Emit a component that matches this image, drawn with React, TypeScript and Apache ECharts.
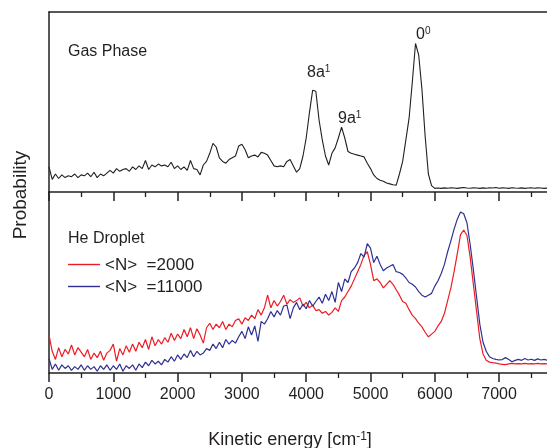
import React, { useEffect, useRef } from "react";
import * as echarts from "echarts";

// Kinetic energy grid (cm^-1): value i sits at i * energyStep
const energyStep = 50;

const gasPhase = [
  0.14, 0.07, 0.10, 0.075, 0.095, 0.08, 0.09, 0.085, 0.10, 0.08,
  0.095, 0.09, 0.105, 0.085, 0.11, 0.08, 0.10, 0.09, 0.105, 0.12,
  0.105, 0.13, 0.115, 0.125, 0.13, 0.115, 0.14, 0.125, 0.145, 0.13,
  0.175, 0.125, 0.15, 0.14, 0.155, 0.145, 0.15, 0.14, 0.165, 0.13,
  0.145, 0.125, 0.14, 0.12, 0.175, 0.13, 0.125, 0.095, 0.15, 0.17,
  0.215, 0.27, 0.25, 0.19, 0.17, 0.16, 0.18, 0.19, 0.2, 0.255,
  0.265, 0.235, 0.19, 0.2, 0.205, 0.195, 0.22, 0.215, 0.205, 0.175,
  0.145, 0.14, 0.145, 0.14, 0.17, 0.18, 0.145, 0.11, 0.13, 0.2,
  0.3, 0.44, 0.565, 0.56, 0.4, 0.29, 0.2, 0.15, 0.215, 0.245,
  0.3, 0.36, 0.3, 0.225, 0.215, 0.21, 0.205, 0.2, 0.195, 0.16,
  0.13, 0.095, 0.075, 0.065, 0.06, 0.05, 0.045, 0.04, 0.038, 0.1,
  0.17, 0.29, 0.41, 0.61, 0.825, 0.76, 0.57, 0.31, 0.1, 0.035,
  0.02, 0.022, 0.02, 0.023, 0.021, 0.024, 0.022, 0.02, 0.023, 0.025,
  0.022, 0.021, 0.024, 0.022, 0.02, 0.023, 0.021, 0.024, 0.022, 0.025,
  0.021, 0.023, 0.022, 0.02, 0.024, 0.022, 0.021, 0.023, 0.02, 0.022,
  0.024, 0.021, 0.023, 0.022, 0.02, 0.022,
];

const droplet2000 = [
  0.21, 0.12, 0.075, 0.14, 0.09, 0.13, 0.105, 0.155, 0.1, 0.14,
  0.115, 0.09, 0.13, 0.075, 0.11, 0.085, 0.12, 0.07, 0.11, 0.125,
  0.16, 0.065, 0.135, 0.1, 0.15, 0.115, 0.16, 0.12, 0.17, 0.14,
  0.185, 0.13, 0.2, 0.15, 0.185, 0.16, 0.195, 0.17, 0.22, 0.18,
  0.215, 0.19, 0.24, 0.2, 0.25, 0.19, 0.245, 0.21, 0.165, 0.25,
  0.275, 0.24, 0.27, 0.25, 0.285, 0.24, 0.27, 0.255, 0.29, 0.3,
  0.27, 0.305, 0.29, 0.32, 0.3, 0.35, 0.32, 0.36, 0.43, 0.36,
  0.4, 0.37, 0.395, 0.43, 0.38, 0.405, 0.39, 0.4, 0.415, 0.37,
  0.39, 0.36, 0.375, 0.345, 0.35, 0.33, 0.34, 0.32, 0.335, 0.36,
  0.34, 0.4, 0.42, 0.45, 0.48, 0.52, 0.56, 0.6, 0.65, 0.67,
  0.6, 0.51, 0.52, 0.5, 0.47, 0.49, 0.51, 0.49, 0.46, 0.43,
  0.395, 0.385, 0.35, 0.32, 0.3, 0.275, 0.255, 0.225, 0.2, 0.215,
  0.23, 0.26, 0.285, 0.33, 0.4, 0.47, 0.56, 0.66, 0.765, 0.79,
  0.76, 0.64, 0.49, 0.34, 0.19, 0.105, 0.07, 0.06, 0.057, 0.055,
  0.05, 0.048, 0.046, 0.05, 0.053, 0.05, 0.052, 0.05, 0.053, 0.05,
  0.052, 0.05, 0.053, 0.05, 0.052, 0.05,
];

const droplet11000 = [
  0.08, 0.02, 0.05, 0.015, 0.045, 0.025, 0.04, 0.015, 0.035, 0.02,
  0.045, 0.015, 0.04, 0.02, 0.035, 0.01, 0.04, 0.02, 0.045, 0.015,
  0.04, 0.02, 0.05, 0.01, 0.04, 0.025, 0.045, 0.015, 0.05, 0.03,
  0.06, 0.04, 0.07, 0.05, 0.065, 0.045, 0.075, 0.06, 0.09, 0.065,
  0.1, 0.075, 0.105, 0.085, 0.125, 0.09, 0.12, 0.1, 0.11, 0.135,
  0.125, 0.16, 0.135, 0.17, 0.14, 0.185, 0.16, 0.18, 0.165, 0.2,
  0.23, 0.19, 0.255, 0.21, 0.26, 0.175, 0.285, 0.27, 0.3, 0.34,
  0.31, 0.345, 0.32, 0.37, 0.375, 0.3, 0.36, 0.39, 0.35, 0.38,
  0.355, 0.4, 0.37, 0.395, 0.42, 0.385, 0.435, 0.4, 0.45, 0.39,
  0.5, 0.45, 0.52, 0.5, 0.56, 0.58, 0.61, 0.66, 0.64, 0.715,
  0.69, 0.61, 0.645, 0.6, 0.565, 0.58, 0.59, 0.6, 0.56, 0.555,
  0.545, 0.525, 0.5, 0.49, 0.475, 0.45, 0.43, 0.42, 0.43, 0.44,
  0.48, 0.51, 0.55, 0.6, 0.67, 0.73, 0.795, 0.85, 0.89, 0.88,
  0.83, 0.71, 0.57, 0.42, 0.27, 0.17, 0.12, 0.09, 0.08, 0.075,
  0.072, 0.074, 0.085, 0.075, 0.062, 0.07, 0.075, 0.07, 0.08, 0.072,
  0.076, 0.07, 0.078, 0.072, 0.075, 0.07,
];

const seriesNames = ["Gas Phase", "<N>  =2000", "<N>  =11000"];
const energyMax = 8000;
const majorInterval = 1000;
const lastLabel = 7000;

export default function App() {
  const ref = useRef<HTMLDivElement>(null);

  useEffect(() => {
    if (!ref.current) return;
    const chart = echarts.init(ref.current, null, { renderer: "svg" });
    const toPairs = (arr: number[]) => arr.map((v, i) => [i * energyStep, v]);
    const font = "'Liberation Sans', Arial, Helvetica, sans-serif";
    const ink = "#231f20";
    const red = "#ed1c24";
    const blue = "#2e3192";

    const axisLine = { show: true, onZero: false, lineStyle: { color: ink, width: 1.5 } };
    const xAxisFor = (gridIndex: number, labels: boolean): any => ({
      type: "value",
      gridIndex,
      position: "bottom",
      min: 0,
      max: energyMax,
      interval: majorInterval,
      axisLine,
      axisTick: { show: true, inside: false, length: 9, lineStyle: { color: ink, width: 1.5 } },
      minorTick: { show: true, splitNumber: 2, length: 5, lineStyle: { color: ink, width: 1.3 } },
      splitLine: { show: false },
      minorSplitLine: { show: false },
      axisLabel: labels
        ? {
            show: true,
            fontSize: 16,
            color: ink,
            margin: 12,
            fontFamily: font,
            formatter: (v: number) => (v <= lastLabel ? String(v) : ""),
          }
        : { show: false },
    });
    const yBase: any = {
      type: "value",
      min: 0,
      max: 1,
      axisLine,
      axisTick: { show: false },
      axisLabel: { show: false },
      splitLine: { show: false },
    };

    chart.setOption({
      animation: false,
      textStyle: { fontFamily: font },
      grid: [
        { left: 49, top: 12, width: 514.4, height: 180, outerBoundsMode: "none" },
        { left: 49, top: 192, width: 514.4, height: 181, outerBoundsMode: "none" },
      ],
      xAxis: [
        xAxisFor(0, false),
        xAxisFor(1, true),
        {
          type: "value",
          gridIndex: 0,
          position: "top",
          min: 0,
          max: energyMax,
          axisLine,
          axisTick: { show: false },
          axisLabel: { show: false },
          splitLine: { show: false },
        },
      ],
      yAxis: [
        { ...yBase, gridIndex: 0 },
        { ...yBase, gridIndex: 1 },
      ],
      legend: {
        data: [seriesNames[1], seriesNames[2]],
        orient: "vertical",
        left: 68,
        top: 256,
        padding: 0,
        icon: "rect",
        itemWidth: 32,
        itemHeight: 1.4,
        itemGap: 5,
        textStyle: { fontSize: 17, color: ink, fontFamily: font, lineHeight: 17 },
      },
      series: [
        {
          type: "line",
          name: seriesNames[0],
          xAxisIndex: 0,
          yAxisIndex: 0,
          data: toPairs(gasPhase),
          symbol: "none",
          lineStyle: { color: ink, width: 1.1 },
          itemStyle: { color: ink },
        },
        {
          type: "line",
          name: seriesNames[1],
          xAxisIndex: 1,
          yAxisIndex: 1,
          data: toPairs(droplet2000),
          symbol: "none",
          lineStyle: { color: red, width: 1.2 },
          itemStyle: { color: red },
        },
        {
          type: "line",
          name: seriesNames[2],
          xAxisIndex: 1,
          yAxisIndex: 1,
          data: toPairs(droplet11000),
          symbol: "none",
          lineStyle: { color: blue, width: 1.2 },
          itemStyle: { color: blue },
        },
      ],
      graphic: [
        {
          type: "text",
          x: 68,
          y: 50.5,
          style: { text: "Gas Phase", fontSize: 16, fill: ink, fontFamily: font, verticalAlign: "middle" },
        },
        {
          type: "text",
          x: 68,
          y: 237.5,
          style: { text: "He Droplet", fontSize: 16, fill: ink, fontFamily: font, verticalAlign: "middle" },
        },
        {
          type: "text",
          x: 307,
          y: 71,
          style: {
            text: "8a{sup|1}",
            fontSize: 16,
            fill: ink,
            fontFamily: font,
            verticalAlign: "middle",
            rich: { sup: { fontSize: 10, verticalAlign: "top", fill: ink, fontFamily: font } },
          },
        },
        {
          type: "text",
          x: 338,
          y: 117.5,
          style: {
            text: "9a{sup|1}",
            fontSize: 16,
            fill: ink,
            fontFamily: font,
            verticalAlign: "middle",
            rich: { sup: { fontSize: 10, verticalAlign: "top", fill: ink, fontFamily: font } },
          },
        },
        {
          type: "text",
          x: 416,
          y: 33,
          style: {
            text: "0{sup|0}",
            fontSize: 16,
            fill: ink,
            fontFamily: font,
            verticalAlign: "middle",
            rich: { sup: { fontSize: 10, verticalAlign: "top", fill: ink, fontFamily: font } },
          },
        },
        {
          type: "text",
          x: 19,
          y: 195,
          rotation: Math.PI / 2,
          style: {
            text: "Probability",
            fontSize: 19,
            fill: ink,
            fontFamily: font,
            align: "center",
            verticalAlign: "middle",
          },
        },
        {
          type: "text",
          x: 290,
          y: 438.5,
          style: {
            text: "Kinetic energy [cm{sup|-1}]",
            fontSize: 18,
            fill: ink,
            fontFamily: font,
            align: "center",
            verticalAlign: "middle",
            rich: { sup: { fontSize: 12, verticalAlign: "top", fill: ink, fontFamily: font } },
          },
        },
      ],
    });

    return () => chart.dispose();
  }, []);

  return (
    <div
      ref={ref}
      style={{ position: "fixed", left: 0, top: 0, width: 547, height: 448 }}
    />
  );
}
